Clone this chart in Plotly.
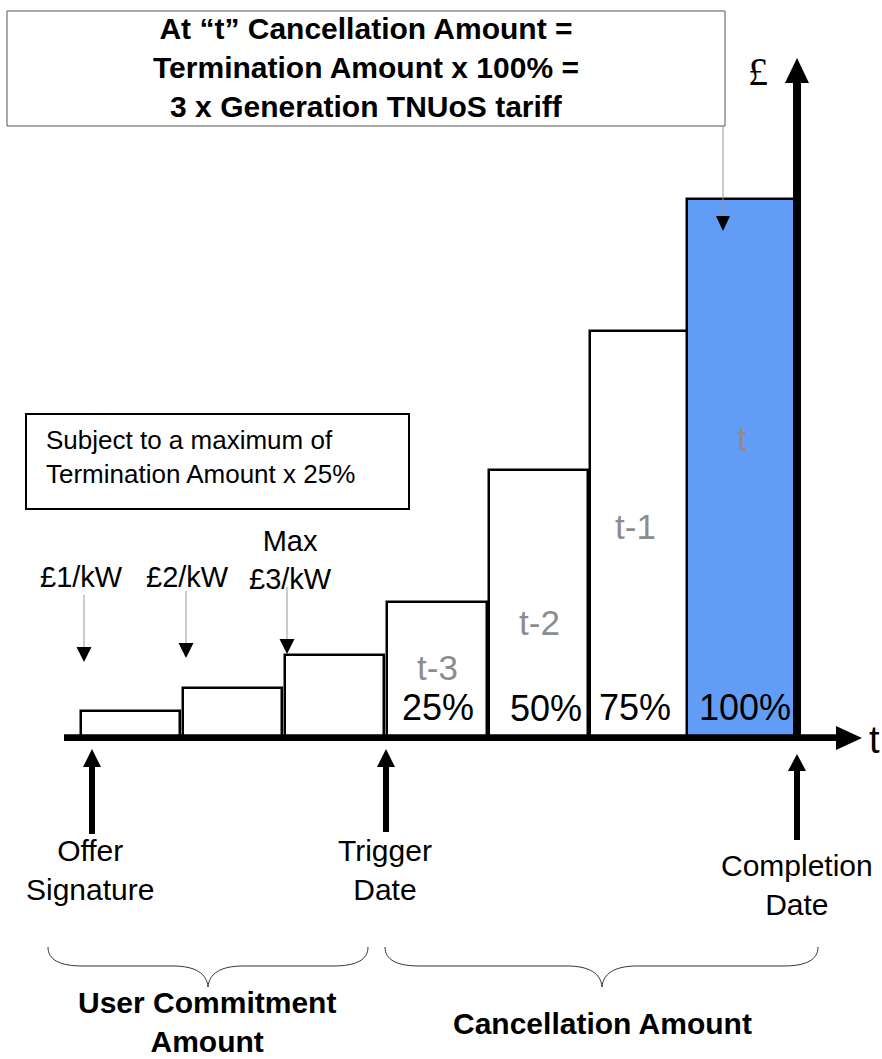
import plotly.graph_objects as go

# ---------------- data ----------------
periods = ["UC1", "UC2", "UC3", "t-3", "t-2", "t-1", "t"]
period_index = [0, 1, 2, 3, 4, 5, 6]
amounts = [27, 50, 83, 136, 268, 407, 539]          # bar heights (relative £)
bar_labels = ["", "", "", "t-3", "t-2", "t-1", "t"]
pct_labels = ["", "", "", "25%", "50%", "75%", "100%"]
kw_labels = ["£1/kW", "£2/kW", "Max<br>£3/kW"]
milestones = ["Offer<br>Signature", "Trigger<br>Date", "Completion<br>Date"]
brace_labels = ["User Commitment<br>Amount", "Cancellation Amount"]

W, H = 882, 1059
FONT = "Liberation Sans, Arial, sans-serif"
BLUE = "#619DF7"
GREY = "#8c8c8c"

def X(px):
    return px / W

def Y(py):
    return 1 - py / H

bar_widths = [0.97, 0.97, 0.97, 0.98, 0.97, 1.0, 1.08]
bar_colors = ["white"] * 6 + [BLUE]

fig = go.Figure()
fig.add_trace(go.Bar(
    x=period_index, y=amounts, width=bar_widths,
    marker=dict(color=bar_colors, line=dict(color="black", width=2.5)),
    hoverinfo="skip", showlegend=False,
))

shapes = []
ann = []

def line(x0, y0, x1, y1, color="black", width=1):
    shapes.append(dict(type="line", xref="paper", yref="paper",
                       x0=X(x0), y0=Y(y0), x1=X(x1), y1=Y(y1),
                       line=dict(color=color, width=width)))

def tri(pts):
    p = "M " + " L ".join(f"{X(a):.5f},{Y(b):.5f}" for a, b in pts) + " Z"
    shapes.append(dict(type="path", xref="paper", yref="paper", path=p,
                       fillcolor="black", line=dict(color="black", width=0)))

def text(x, y, s, size, color="black", bold=False, xanchor="center", family=FONT):
    if bold:
        s = "<b>" + s.replace("<br>", "</b><br><b>") + "</b>"
    ann.append(dict(xref="paper", yref="paper", x=X(x), y=Y(y), text=s,
                    showarrow=False, xanchor=xanchor, yanchor="middle",
                    align="center" if xanchor == "center" else "left",
                    font=dict(family=family, size=size, color=color)))

def rect(x0, y0, x1, y1, color="black", width=1):
    shapes.append(dict(type="rect", xref="paper", yref="paper",
                       x0=X(x0), y0=Y(y0), x1=X(x1), y1=Y(y1),
                       line=dict(color=color, width=width), fillcolor="rgba(0,0,0,0)"))

# axes
line(64, 737.7, 840, 737.7, width=6.7)
tri([(836, 726), (862, 738), (836, 750)])
line(797, 741, 797, 80, width=8)
tri([(785, 83), (797, 58), (809, 83)])
text(874, 740, "t", 38)
text(758, 72, "£", 40, family="Liberation Serif, serif")

# title box
rect(7, 11, 725, 126, color="#555", width=1)
text(366, 68, "At “t” Cancellation Amount =<br>Termination Amount x 100% =<br>3 x Generation TNUoS tariff", 30, bold=True)
line(723, 126, 723, 218, color="#999", width=1)
tri([(716, 216), (730, 216), (723, 231)])

# subject box
rect(26, 414, 409, 509, color="black", width=2)
text(44, 457, "Subject to a maximum of<br>Termination Amount x 25%", 26, xanchor="left")

# £/kW labels and arrows
kw_pos = [(81, 577), (187, 577), (290, 560)]
kw_arrows = [(84, 595, 647), (186, 591, 643), (287, 587, 639)]
for (lx, ly), s in zip(kw_pos, kw_labels):
    text(lx, ly, s, 29)
for ax, ya, yb in kw_arrows:
    line(ax, ya, ax, yb + 2, color="#999", width=1)
    tri([(ax - 7.5, yb), (ax + 7.5, yb), (ax, yb + 15)])

# bar texts
bar_lab_pos = [None, None, None, (437, 667), (539, 622), (635, 527), (742, 438)]
pct_pos = [None, None, None, (438, 707), (546, 708), (635, 707), (745, 707)]
for i in range(len(periods)):
    if bar_labels[i]:
        bx, by = bar_lab_pos[i]
        text(bx, by, bar_labels[i], 35, color=GREY)
    if pct_labels[i]:
        px_, py_ = pct_pos[i]
        text(px_, py_, pct_labels[i], 36)

# milestone arrows
ms_arrows = [(92, 749, 767, 834), (386, 749, 767, 832), (797, 754, 771, 840)]
for ax, tip, base, bot in ms_arrows:
    line(ax, base - 1, ax, bot, width=6)
    tri([(ax - 9, base), (ax, tip), (ax + 9, base)])
ms_pos = [(90, 870), (385, 870), (797, 885)]
for (mx, my), s in zip(ms_pos, milestones):
    text(mx, my, s, 30)

# braces
def brace(x0, x1, xm, ytop=947, ymid=966, ytip=987):
    pts = [
        f"M {X(x0):.5f},{Y(ytop):.5f}",
        f"C {X(x0):.5f},{Y(ymid-6):.5f} {X(x0+12):.5f},{Y(ymid):.5f} {X(x0+35):.5f},{Y(ymid):.5f}",
        f"L {X(xm-35):.5f},{Y(ymid):.5f}",
        f"C {X(xm-12):.5f},{Y(ymid):.5f} {X(xm-1):.5f},{Y(ymid+8):.5f} {X(xm):.5f},{Y(ytip):.5f}",
        f"C {X(xm+1):.5f},{Y(ymid+8):.5f} {X(xm+12):.5f},{Y(ymid):.5f} {X(xm+35):.5f},{Y(ymid):.5f}",
        f"L {X(x1-35):.5f},{Y(ymid):.5f}",
        f"C {X(x1-12):.5f},{Y(ymid):.5f} {X(x1):.5f},{Y(ymid-6):.5f} {X(x1):.5f},{Y(ytop):.5f}",
    ]
    shapes.append(dict(type="path", xref="paper", yref="paper", path=" ".join(pts),
                       line=dict(color="#333", width=1)))

brace(48, 368, 208)
brace(385, 818, 602)
text(207, 1022, brace_labels[0], 30, bold=True)
text(602, 1023, brace_labels[1], 30, bold=True)

fig.update_layout(
    width=W, height=H, autosize=False,
    margin=dict(l=0, r=0, t=0, b=0),
    paper_bgcolor="white", plot_bgcolor="white",
    xaxis=dict(range=[-1.2801, 7.3669], visible=False, fixedrange=True),
    yaxis=dict(range=[-321.5, 737.5], visible=False, fixedrange=True),
    bargap=0, shapes=shapes, annotations=ann,
    font=dict(family=FONT),
)

fig.write_html("out.html")
